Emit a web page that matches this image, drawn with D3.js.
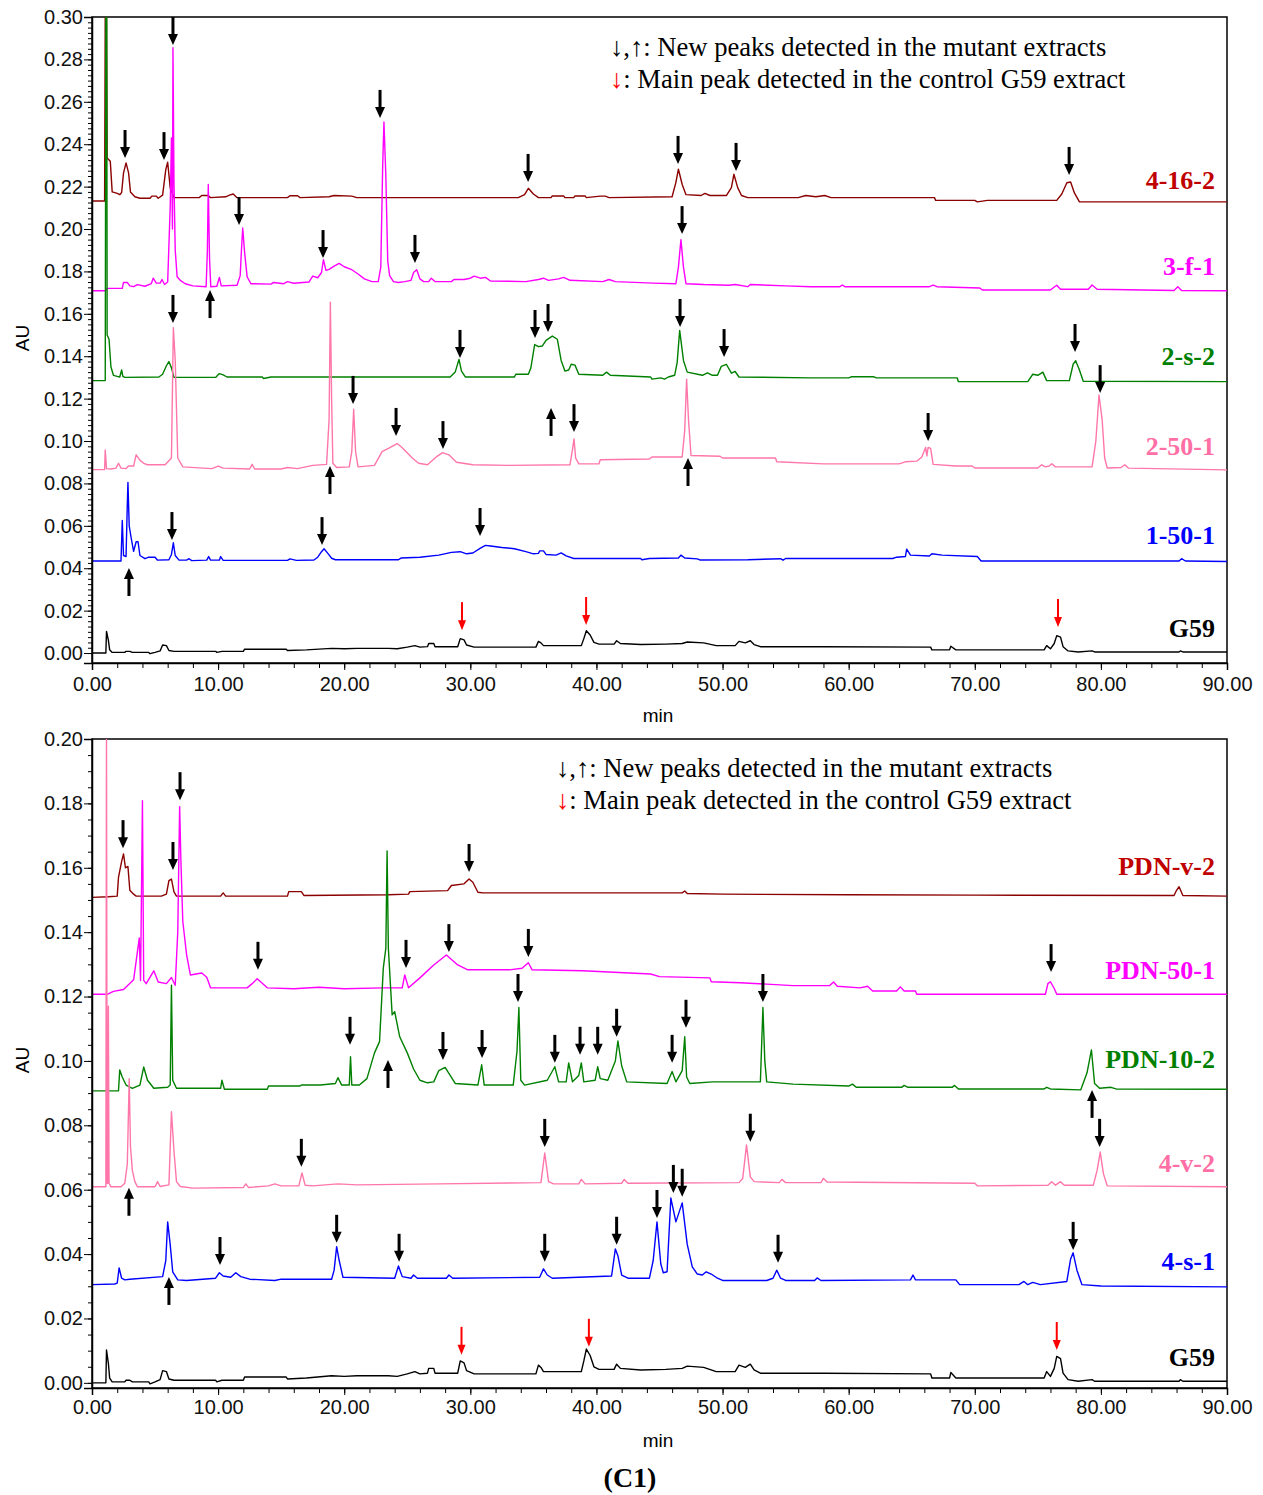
<!DOCTYPE html>
<html>
<head>
<meta charset="utf-8">
<script src="https://cdn.jsdelivr.net/npm/d3@7"></script>
<style>
  body { margin: 0; background: #fff; }
</style>
</head>
<body>
<div class="chart"></div>
<script>

// ---- data: [minutes, AU] ----

// control, drawn in both panels
var g59 = [[0,0],[1.1,0],[1.15,0.0102],[1.3,0.006],[1.4,0.0015],[1.6,0.0003],[2.6,0.0003],[2.7,0.0008],[3.0,0.0008],[3.2,0.0003],[4.5,0.0003],[4.6,-0.0003],[5.0,0.0003],[5.4,0.001],[5.6,0.0038],[5.9,0.0035],[6.1,0.0012],[6.5,0.0008],[9.8,0.0008],[9.9,0.0003],[10.3,0.0008],[12.0,0.0008],[12.1,0.0018],[15.4,0.0018],[15.5,0.0012],[17.0,0.0015],[19.0,0.0022],[20.0,0.002],[21.0,0.0022],[23.5,0.0022],[24.2,0.002],[25.0,0.0028],[25.6,0.0035],[26.0,0.0028],[26.6,0.003],[26.7,0.0045],[27.1,0.0045],[27.2,0.003],[29.0,0.003],[29.2,0.0068],[29.5,0.0062],[29.7,0.0038],[30.3,0.0028],[35.2,0.0028],[35.4,0.0055],[35.6,0.0048],[35.8,0.0035],[38.8,0.0035],[39.0,0.0068],[39.2,0.0105],[39.5,0.0085],[39.8,0.005],[40.2,0.0042],[41.4,0.0042],[41.6,0.0058],[41.9,0.0045],[43.5,0.004],[45.5,0.0042],[46.8,0.0045],[47.2,0.0052],[48.5,0.0048],[49.5,0.0035],[51.0,0.0035],[51.3,0.0055],[51.8,0.0048],[52.2,0.0058],[52.5,0.004],[53,0.003],[58,0.003],[66.5,0.0028],[66.6,0.0015],[68.0,0.0015],[68.1,0.0032],[68.5,0.0015],[75.5,0.0015],[75.7,0.0035],[76.0,0.002],[76.3,0.0045],[76.5,0.0082],[76.8,0.0075],[77.0,0.003],[77.4,0.001],[78.2,0.0005],[79.3,0.001],[79.5,0.0005],[86.2,0.0005],[86.3,0.001],[86.5,0.0005],[90,0.0005]];

// top panel
var s4162 = [[0,0.2132],[1.0,0.2132],[1.05,0.30],[1.15,0.30],[1.2,0.2335],[1.45,0.232],[1.6,0.2175],[2.0,0.2168],[2.2,0.2162],[2.35,0.2172],[2.5,0.2265],[2.7,0.2312],[2.9,0.2265],[3.05,0.2175],[3.4,0.2152],[3.8,0.2145],[4.6,0.2145],[4.75,0.2155],[5.1,0.2155],[5.25,0.2145],[5.6,0.216],[5.85,0.228],[6.0,0.2315],[6.2,0.2195],[6.5,0.2148],[8.5,0.2148],[8.7,0.2158],[9.2,0.2158],[9.4,0.2148],[10.6,0.2152],[10.9,0.216],[11.2,0.2165],[11.5,0.2148],[15.5,0.2148],[15.7,0.2157],[16.3,0.2157],[16.5,0.2148],[18.8,0.2152],[19.2,0.2158],[20.6,0.2155],[21,0.2148],[33.8,0.2148],[34.3,0.2162],[34.6,0.2192],[35.0,0.2165],[35.4,0.2148],[36.4,0.2148],[36.5,0.2156],[37.4,0.2156],[37.5,0.2148],[38.2,0.2148],[38.3,0.2156],[39.1,0.2156],[39.2,0.2148],[40.3,0.2155],[40.7,0.2155],[41,0.2148],[46.0,0.2152],[46.3,0.222],[46.5,0.2282],[46.8,0.221],[47.1,0.2162],[48.3,0.2158],[48.6,0.2168],[49.0,0.2158],[50.3,0.2158],[50.7,0.2195],[50.9,0.2258],[51.2,0.2195],[51.5,0.2158],[52.0,0.2148],[56.0,0.2148],[56.6,0.2158],[57.4,0.2152],[58.1,0.2158],[58.6,0.2148],[66.8,0.2148],[66.9,0.2135],[70,0.2135],[70.2,0.2128],[71,0.2135],[76.5,0.2135],[76.9,0.2165],[77.3,0.2218],[77.6,0.2222],[77.9,0.217],[78.3,0.2128],[90,0.2128]];

var s3f1 = [[0,0.1709],[1.1,0.1709],[1.2,0.172],[2.4,0.172],[2.5,0.1748],[2.8,0.1748],[3.0,0.1732],[3.3,0.1728],[3.6,0.1738],[4.2,0.173],[4.7,0.1742],[4.85,0.1768],[5.1,0.1745],[5.4,0.1745],[5.55,0.1762],[5.75,0.1738],[6.0,0.175],[6.2,0.21],[6.3,0.243],[6.38,0.2],[6.42,0.2855],[6.5,0.222],[6.6,0.19],[6.75,0.1775],[7.0,0.1758],[7.4,0.1742],[8.0,0.1732],[9.05,0.1728],[9.15,0.19],[9.22,0.221],[9.32,0.186],[9.42,0.1728],[9.9,0.173],[10.1,0.1772],[10.25,0.1732],[11.5,0.1735],[11.75,0.178],[11.85,0.19],[11.95,0.2005],[12.1,0.189],[12.3,0.1775],[12.6,0.1742],[14.2,0.174],[14.4,0.1748],[15.2,0.1742],[15.5,0.1752],[16.0,0.1744],[17.2,0.175],[17.5,0.1778],[17.9,0.177],[18.2,0.1795],[18.35,0.1855],[18.55,0.1805],[18.8,0.181],[19.2,0.1825],[19.6,0.1838],[20.0,0.1822],[20.6,0.1808],[21.1,0.1788],[21.6,0.1765],[22.2,0.1752],[22.7,0.1752],[22.9,0.182],[23.05,0.23],[23.15,0.2505],[23.3,0.225],[23.45,0.185],[23.6,0.178],[23.9,0.1752],[24.3,0.1748],[24.8,0.1752],[25.3,0.1758],[25.5,0.1795],[25.75,0.1808],[26.0,0.1765],[26.3,0.1752],[26.7,0.1752],[26.9,0.1768],[27.2,0.1752],[28.5,0.1752],[28.7,0.1762],[29.5,0.1762],[30.0,0.1768],[30.3,0.1778],[30.8,0.1768],[31.2,0.1772],[31.6,0.1755],[34.4,0.1752],[35.4,0.1762],[35.8,0.1768],[36.2,0.1758],[37.0,0.1765],[37.4,0.1772],[37.9,0.1758],[40.5,0.1752],[41.0,0.1762],[41.5,0.1752],[44.5,0.1745],[46.3,0.1742],[46.5,0.182],[46.7,0.195],[46.9,0.182],[47.1,0.1742],[48.5,0.1738],[50.5,0.1735],[51,0.1738],[52,0.1728],[52.2,0.1738],[55,0.1732],[57,0.1728],[59.3,0.1728],[59.5,0.1736],[59.7,0.1728],[66.4,0.1728],[66.7,0.1735],[67.0,0.1728],[70.4,0.1722],[70.6,0.1712],[76.0,0.1712],[76.2,0.1722],[76.5,0.1735],[76.8,0.1716],[79.0,0.1716],[79.3,0.1736],[79.7,0.1716],[85.8,0.171],[86.1,0.1728],[86.4,0.171],[90,0.1709]];

var s2s2 = [[0,0.1285],[1.05,0.1285],[1.1,0.30],[1.17,0.30],[1.2,0.150],[1.35,0.148],[1.5,0.135],[1.7,0.131],[2.0,0.1305],[2.2,0.1302],[2.35,0.1335],[2.45,0.1305],[2.6,0.130],[5.3,0.1302],[5.6,0.1315],[5.9,0.1355],[6.1,0.1375],[6.3,0.1345],[6.5,0.130],[9.8,0.130],[10.1,0.1318],[10.4,0.1312],[10.7,0.1302],[13.5,0.1302],[13.6,0.1295],[14.2,0.1302],[28.4,0.1302],[28.8,0.1325],[29.1,0.1385],[29.3,0.133],[29.6,0.1302],[33.5,0.1302],[33.6,0.1315],[34.6,0.1315],[34.8,0.1345],[35.1,0.1455],[35.4,0.1445],[35.7,0.1448],[36.0,0.1475],[36.5,0.1495],[36.9,0.148],[37.2,0.138],[37.5,0.133],[37.8,0.1335],[38.0,0.1362],[38.3,0.1358],[38.6,0.1315],[40.5,0.131],[40.8,0.1325],[41.1,0.131],[44.3,0.1302],[44.4,0.1292],[45.1,0.1298],[45.4,0.1292],[45.7,0.1302],[46.2,0.131],[46.4,0.137],[46.6,0.1522],[46.9,0.138],[47.2,0.1325],[48.4,0.131],[48.8,0.1322],[49.2,0.131],[49.6,0.131],[49.9,0.1352],[50.3,0.1362],[50.7,0.132],[51.0,0.1328],[51.3,0.1302],[57.0,0.1298],[60.0,0.1298],[60.2,0.1303],[62.0,0.1303],[62.2,0.1298],[68.6,0.1298],[68.7,0.128],[74.2,0.128],[74.6,0.1315],[75.0,0.131],[75.4,0.1325],[75.7,0.1285],[77.5,0.1285],[77.8,0.1362],[78.0,0.1379],[78.3,0.1335],[78.6,0.1282],[90,0.128]];

var s2501 = [[0,0.0865],[1.0,0.0865],[1.05,0.0958],[1.15,0.087],[1.5,0.0868],[1.9,0.0872],[2.1,0.0895],[2.3,0.0872],[2.7,0.087],[2.9,0.0882],[3.3,0.0882],[3.5,0.0935],[3.8,0.091],[4.1,0.0895],[4.4,0.0888],[5.8,0.0888],[6.3,0.092],[6.45,0.1535],[6.6,0.138],[6.8,0.092],[7.2,0.0878],[9.5,0.087],[10.0,0.0882],[10.4,0.0872],[12.5,0.0868],[12.7,0.089],[12.9,0.0868],[15,0.0868],[15.5,0.0875],[16.3,0.087],[17.5,0.0885],[18.6,0.089],[18.8,0.11],[18.9,0.1655],[19.0,0.12],[19.1,0.0895],[19.4,0.0875],[20.4,0.0878],[20.6,0.095],[20.75,0.115],[20.9,0.095],[21.1,0.0878],[22.4,0.0885],[23.0,0.095],[23.5,0.0965],[24.2,0.0988],[24.6,0.0968],[25.4,0.092],[25.9,0.0895],[26.6,0.0888],[27.3,0.0925],[27.8,0.0945],[28.3,0.0935],[28.9,0.09],[30.2,0.0888],[33,0.0885],[37.9,0.0888],[38.1,0.096],[38.22,0.101],[38.35,0.092],[38.6,0.0892],[40.2,0.0892],[40.3,0.0912],[44.2,0.0915],[44.4,0.0925],[46.8,0.0925],[47.0,0.105],[47.15,0.1292],[47.3,0.11],[47.5,0.0932],[49.8,0.0928],[50,0.092],[54.2,0.092],[54.3,0.0902],[58,0.0892],[64,0.0892],[64.5,0.0902],[65.4,0.0905],[65.8,0.0925],[66.1,0.097],[66.2,0.093],[66.3,0.097],[66.5,0.0965],[66.7,0.089],[68.5,0.0882],[69.8,0.0882],[70,0.0873],[75.0,0.0873],[75.3,0.0888],[75.6,0.0878],[75.9,0.0882],[76.1,0.0893],[76.4,0.0878],[79.3,0.0878],[79.6,0.1],[79.85,0.1217],[80.1,0.11],[80.3,0.092],[80.5,0.0873],[81.6,0.0875],[81.9,0.0888],[82.2,0.0872],[90,0.0864]];

var s1501 = [[0,0.0434],[2.3,0.0434],[2.4,0.0625],[2.5,0.046],[2.7,0.0455],[2.8,0.07],[2.85,0.0805],[2.95,0.06],[3.1,0.0545],[3.3,0.048],[3.5,0.0525],[3.65,0.0525],[3.8,0.046],[4.2,0.0445],[4.5,0.0452],[5.0,0.0452],[5.2,0.0438],[6.1,0.044],[6.3,0.0465],[6.45,0.052],[6.6,0.046],[6.9,0.0438],[7.5,0.0438],[7.7,0.0445],[7.9,0.0436],[9.1,0.0438],[9.25,0.0455],[9.4,0.0438],[10.1,0.0438],[10.2,0.0455],[10.4,0.0437],[15.5,0.0437],[15.7,0.0444],[16.2,0.0437],[17.6,0.0439],[17.9,0.0452],[18.2,0.0478],[18.4,0.0492],[18.7,0.047],[19.0,0.0447],[19.3,0.044],[24.3,0.044],[24.5,0.0448],[26,0.0452],[27.5,0.0462],[28.5,0.0475],[29.2,0.0478],[29.7,0.0468],[30.2,0.0472],[30.8,0.0495],[31.2,0.0508],[31.6,0.0505],[32.5,0.0498],[33.5,0.0492],[34.4,0.0478],[35.0,0.0468],[35.4,0.047],[35.5,0.0482],[35.8,0.0482],[36.0,0.0465],[36.8,0.0462],[37.2,0.0472],[37.6,0.0458],[38.2,0.0446],[43.5,0.0446],[43.6,0.044],[44.2,0.0446],[46.5,0.0448],[46.7,0.0462],[47.0,0.0448],[48.0,0.0444],[48.2,0.0439],[52.0,0.044],[54.6,0.0445],[54.8,0.0438],[55.0,0.0446],[63.5,0.0446],[63.8,0.0452],[64.5,0.0455],[64.6,0.049],[64.9,0.0462],[66.4,0.0458],[66.6,0.0468],[67.4,0.0462],[70.2,0.0455],[70.5,0.0434],[83,0.0434],[86.2,0.0434],[86.4,0.0445],[86.7,0.0434],[90,0.0432]];

// bottom panel
var sPDNv2 = [[0,0.1508],[1.3,0.151],[2.0,0.1512],[2.1,0.157],[2.35,0.162],[2.5,0.1643],[2.65,0.16],[2.85,0.1604],[3.0,0.153],[3.3,0.1518],[3.5,0.1512],[5.5,0.1512],[5.9,0.1518],[6.1,0.156],[6.3,0.1565],[6.5,0.1525],[6.7,0.1512],[10.2,0.1512],[10.4,0.1522],[10.6,0.1512],[15.5,0.1512],[15.6,0.1526],[16.6,0.1526],[16.8,0.1514],[23.5,0.1516],[25.1,0.1518],[25.2,0.1526],[28.2,0.1529],[28.5,0.1545],[29.5,0.155],[29.9,0.1565],[30.2,0.1555],[30.6,0.1524],[31,0.1522],[34,0.1522],[46.8,0.1522],[47.0,0.1528],[47.2,0.152],[50,0.1518],[60,0.1516],[70,0.1515],[85.8,0.1514],[86.0,0.153],[86.2,0.1541],[86.5,0.1514],[90,0.1512]];

var sPDN501 = [[0,0.1207],[1.2,0.1207],[1.7,0.1216],[2.5,0.1222],[3.3,0.1252],[3.55,0.1324],[3.75,0.1382],[3.85,0.125],[4.0,0.1808],[4.1,0.125],[4.3,0.124],[4.9,0.128],[5.25,0.1245],[5.9,0.124],[6.3,0.1259],[6.6,0.1235],[6.8,0.14],[6.95,0.179],[7.05,0.162],[7.2,0.1433],[7.5,0.133],[7.8,0.1267],[8.7,0.1273],[9.1,0.126],[9.4,0.1227],[12.3,0.1227],[12.7,0.124],[13.1,0.1255],[13.9,0.1227],[16,0.1224],[18,0.1229],[20,0.1224],[23.1,0.1227],[24.6,0.1227],[24.8,0.1267],[25.1,0.1227],[26,0.1258],[27.1,0.1298],[28.1,0.1329],[29.0,0.1298],[29.8,0.1283],[33.1,0.1283],[34.1,0.1288],[34.6,0.1305],[34.9,0.1283],[38.9,0.128],[44.3,0.127],[45.0,0.1262],[49,0.1258],[49.1,0.1246],[51.4,0.1243],[55.6,0.1234],[58.5,0.1234],[58.8,0.1245],[59.1,0.1232],[60.9,0.1227],[61.5,0.1232],[61.9,0.1217],[63.8,0.1217],[64.1,0.123],[64.4,0.1217],[65.3,0.1217],[65.4,0.1207],[75.6,0.1207],[75.8,0.124],[76.0,0.1246],[76.3,0.1225],[76.5,0.1207],[90,0.1207]];

var sPDN102 = [[0,0.0907],[2.1,0.0907],[2.2,0.0972],[2.4,0.095],[2.7,0.0925],[3.2,0.0915],[3.8,0.0925],[4.1,0.0981],[4.4,0.094],[4.9,0.0915],[6.0,0.0918],[6.2,0.0925],[6.3,0.1235],[6.4,0.094],[6.7,0.0915],[10.2,0.0915],[10.3,0.094],[10.5,0.0912],[13.9,0.0912],[14.0,0.0922],[16.5,0.0922],[16.6,0.0925],[18.1,0.0925],[19.3,0.093],[19.5,0.0948],[19.8,0.0925],[20.4,0.0925],[20.5,0.1013],[20.6,0.0925],[21.2,0.0925],[21.8,0.0945],[22.4,0.1025],[22.8,0.106],[23.1,0.1289],[23.3,0.135],[23.4,0.1652],[23.5,0.135],[23.8,0.1143],[24.0,0.1153],[24.4,0.1075],[25.0,0.1025],[25.5,0.0975],[26,0.094],[26.6,0.0932],[27.1,0.0935],[27.5,0.097],[28,0.098],[28.4,0.0955],[28.8,0.093],[30.6,0.0925],[30.9,0.0988],[31.1,0.0925],[33.4,0.0925],[33.7,0.103],[33.85,0.1166],[34.0,0.094],[34.3,0.0925],[36.1,0.094],[36.7,0.0982],[37.0,0.0935],[37.6,0.0935],[37.8,0.0994],[38.1,0.0935],[38.6,0.0955],[38.8,0.0994],[39.0,0.0935],[39.9,0.094],[40.1,0.0982],[40.3,0.0945],[40.9,0.094],[41.5,0.1],[41.7,0.1062],[42.0,0.0985],[42.4,0.0935],[45.6,0.093],[46.0,0.0967],[46.3,0.0935],[46.8,0.097],[47.0,0.1075],[47.15,0.095],[47.4,0.093],[49.2,0.0935],[50.6,0.0935],[53.0,0.0935],[53.2,0.1166],[53.35,0.1],[53.5,0.0935],[55.6,0.0928],[60,0.0922],[60.3,0.0928],[60.6,0.0918],[64.2,0.0918],[64.4,0.0924],[64.7,0.0918],[68.2,0.0918],[68.4,0.0924],[68.7,0.0913],[75.5,0.0913],[75.7,0.0918],[76,0.0913],[78.4,0.091],[78.9,0.0963],[79.25,0.1034],[79.5,0.093],[79.9,0.0915],[80.8,0.0918],[81.2,0.0913],[90,0.0912]];

var s4v2 = [[0,0.0609],[1.1,0.0609],[1.15,0.205],[1.2,0.062],[1.25,0.062],[1.3,0.117],[1.35,0.062],[1.5,0.0609],[2.3,0.0609],[2.6,0.062],[2.8,0.068],[2.95,0.0945],[3.05,0.0735],[3.2,0.066],[3.4,0.0625],[3.6,0.0609],[5.0,0.0609],[5.2,0.0625],[5.4,0.061],[6.1,0.0615],[6.3,0.0842],[6.5,0.072],[6.7,0.0625],[7.0,0.061],[8.0,0.0605],[12.0,0.0607],[12.2,0.0618],[12.4,0.0607],[14.0,0.0612],[14.5,0.0618],[15.0,0.0612],[16.4,0.0612],[16.65,0.0652],[16.9,0.0614],[17.5,0.0612],[19.5,0.0618],[21.0,0.0615],[27.5,0.0618],[35.6,0.0622],[35.9,0.0714],[36.2,0.0625],[36.6,0.0618],[38.6,0.0618],[38.8,0.0632],[39.1,0.0618],[42,0.062],[42.2,0.0632],[42.5,0.062],[51.3,0.0622],[51.6,0.0635],[51.9,0.0739],[52.2,0.064],[52.5,0.0625],[54.5,0.0622],[54.7,0.0632],[55,0.0622],[57.8,0.0622],[58.0,0.0635],[58.3,0.0624],[70,0.062],[70.2,0.0612],[75.8,0.0614],[76.1,0.0625],[76.4,0.0614],[76.8,0.0625],[77.1,0.0614],[79.4,0.0614],[79.7,0.066],[79.95,0.0717],[80.2,0.065],[80.5,0.0612],[90,0.0609]];

var s4s1 = [[0,0.0305],[1.8,0.0307],[2.0,0.031],[2.15,0.0357],[2.35,0.0325],[2.6,0.032],[3,0.0322],[5.6,0.033],[5.85,0.038],[6.0,0.050],[6.2,0.043],[6.4,0.0345],[6.8,0.032],[7.5,0.0318],[9.8,0.0325],[10.1,0.0342],[10.4,0.0332],[11.0,0.0328],[11.4,0.0342],[11.8,0.033],[12.5,0.0322],[14.5,0.0318],[15.0,0.0322],[19.0,0.0322],[19.2,0.035],[19.4,0.0423],[19.6,0.038],[19.9,0.0328],[24.0,0.0325],[24.3,0.0363],[24.6,0.033],[25.3,0.0325],[25.5,0.0335],[25.8,0.0325],[28.1,0.0325],[28.3,0.0335],[28.6,0.0325],[35.5,0.0328],[35.8,0.0354],[36.1,0.0335],[36.5,0.0325],[41.2,0.0332],[41.5,0.0416],[41.7,0.0395],[42.0,0.0335],[42.5,0.0325],[44.2,0.0325],[44.5,0.038],[44.8,0.050],[45.1,0.037],[45.3,0.0342],[45.6,0.0345],[45.9,0.0574],[46.3,0.05],[46.8,0.0559],[47.2,0.043],[47.6,0.036],[48.0,0.0338],[48.4,0.0335],[48.7,0.0345],[49.1,0.0338],[49.6,0.0325],[50,0.0318],[53.5,0.0318],[54.0,0.0325],[54.3,0.035],[54.6,0.0325],[55,0.0318],[57.3,0.0318],[57.5,0.0326],[57.8,0.0318],[64.9,0.032],[65.1,0.0335],[65.3,0.032],[68.5,0.032],[68.8,0.0305],[73.5,0.0305],[73.9,0.0315],[74.2,0.0305],[74.6,0.0312],[75.2,0.0305],[77.3,0.0315],[77.6,0.0385],[77.8,0.0404],[78.1,0.035],[78.5,0.0305],[80,0.0301],[90,0.0298]];

// trace names and peak arrows: [minutes, AU at arrow tip, direction, colour]
var topNames = ["4-16-2", "3-f-1", "2-s-2", "2-50-1", "1-50-1", "G59"];
var bottomNames = ["PDN-v-2", "PDN-50-1", "PDN-10-2", "4-v-2", "4-s-1", "G59"];

var topArrows = [
  [2.62,0.2335,"d","k"],[5.71,0.2325,"d","k"],[6.42,0.2868,"d","k"],[34.58,0.2222,"d","k"],[46.47,0.2307,"d","k"],[51.07,0.2274,"d","k"],[77.48,0.2255,"d","k"],
  [22.84,0.2524,"d","k"],[11.66,0.2019,"d","k"],[18.32,0.1863,"d","k"],[25.61,0.184,"d","k"],[46.79,0.1976,"d","k"],[9.36,0.1712,"u","k"],
  [6.42,0.1557,"d","k"],[29.18,0.1392,"d","k"],[35.13,0.1486,"d","k"],[36.16,0.1514,"d","k"],[46.63,0.1538,"d","k"],[50.12,0.1396,"d","k"],[77.95,0.142,"d","k"],
  [20.70,0.1175,"d","k"],[24.11,0.1024,"d","k"],[27.83,0.0962,"d","k"],[36.4,0.1156,"u","k"],[38.22,0.1042,"d","k"],[66.3,0.1,"d","k"],[79.94,0.1226,"d","k"],[18.87,0.0882,"u","k"],[47.26,0.092,"u","k"],
  [6.34,0.0533,"d","k"],[18.24,0.0509,"d","k"],[30.77,0.0552,"d","k"],[2.93,0.0401,"u","k"],
  [29.34,0.0108,"d","r"],[39.18,0.0132,"d","r"],[76.6,0.0123,"d","r"]
];

var bottomArrows = [
  [2.46,0.1661,"d","k"],[6.42,0.1593,"d","k"],[29.9,0.1587,"d","k"],
  [6.98,0.181,"d","k"],[13.16,0.1283,"d","k"],[24.9,0.1289,"d","k"],[28.3,0.1338,"d","k"],[34.6,0.1323,"d","k"],[76.05,0.1276,"d","k"],
  [20.46,0.105,"d","k"],[23.47,0.1003,"u","k"],[27.83,0.1003,"d","k"],[30.93,0.1009,"d","k"],[33.78,0.1183,"d","k"],[36.7,0.0994,"d","k"],[38.7,0.1019,"d","k"],[40.1,0.1019,"d","k"],[41.6,0.1075,"d","k"],[46.0,0.0994,"d","k"],[47.1,0.1103,"d","k"],[53.2,0.1183,"d","k"],[79.3,0.091,"u","k"],
  [2.93,0.0606,"u","k"],[16.6,0.0671,"d","k"],[35.9,0.0733,"d","k"],[52.2,0.0749,"d","k"],[79.9,0.0733,"d","k"],
  [6.1,0.0329,"u","k"],[10.15,0.0366,"d","k"],[19.4,0.0435,"d","k"],[24.35,0.0376,"d","k"],[35.9,0.0376,"d","k"],[41.6,0.0429,"d","k"],[44.8,0.0512,"d","k"],[46.1,0.059,"d","k"],[46.8,0.0578,"d","k"],[54.4,0.0373,"d","k"],[77.8,0.0413,"d","k"],
  [29.3,0.0087,"d","r"],[39.4,0.0112,"d","r"],[76.5,0.0102,"d","r"]
];

var xTicks = [0, 10, 20, 30, 40, 50, 60, 70, 80, 90];
var topYTicks = [0, 0.02, 0.04, 0.06, 0.08, 0.10, 0.12, 0.14, 0.16, 0.18, 0.20, 0.22, 0.24, 0.26, 0.28, 0.30];
var bottomYTicks = [0, 0.02, 0.04, 0.06, 0.08, 0.10, 0.12, 0.14, 0.16, 0.18, 0.20];

// ---- styles ----
var lineColors = ["#8b0000", "#ff00ff", "#008000", "#ff77aa", "#0000ff", "#000000"];
var labelColors = ["#c00000", "#ff00ff", "#008000", "#ff6fa5", "#0000ff", "#000000"];

var svgWidth = 1263, svgHeight = 1495;
var svg = d3.select(".chart").append("svg")
  .attr("width", svgWidth)
  .attr("height", svgHeight)
  .style("font-family", "'Liberation Sans', Arial, sans-serif");

var x = d3.scaleLinear().domain([0, 90]).range([92, 1227]);

function drawPanel(p) {
  var y = d3.scaleLinear().domain(p.yDomain).range(p.yRange);
  var g = svg.append("g");

  g.append("clipPath").attr("id", p.id)
    .append("rect")
    .attr("x", x(0)).attr("y", p.yRange[1])
    .attr("width", x(90) - x(0)).attr("height", p.yRange[0] - p.yRange[1]);

  // frame
  g.append("rect")
    .attr("x", x(0)).attr("y", p.yRange[1])
    .attr("width", x(90) - x(0)).attr("height", p.yRange[0] - p.yRange[1])
    .attr("fill", "none").attr("stroke", "#000").attr("stroke-width", 1.5);

  // traces
  var line = d3.line().x(d => x(d[0])).y(d => y(d[1]));
  var traces = g.append("g").attr("clip-path", "url(#" + p.id + ")");
  p.series.forEach(function(s, i) {
    traces.append("path")
      .datum(s)
      .attr("d", line)
      .attr("fill", "none")
      .attr("stroke", lineColors[i])
      .attr("stroke-width", 1.4)
      .attr("stroke-linejoin", "round");
  });

  // trace labels
  p.names.forEach(function(name, i) {
    g.append("text")
      .attr("x", 1215)
      .attr("y", y(p.labelAU[i]))
      .attr("text-anchor", "end")
      .style("font-family", "'Liberation Serif', 'Times New Roman', serif")
      .style("font-weight", "bold")
      .style("font-size", "26px")
      .attr("fill", labelColors[i])
      .text(name);
  });

  // arrows
  p.arrows.forEach(function(a) {
    var ax = x(a[0]), ay = y(a[1]);
    var red = a[3] === "r";
    var col = red ? "#ff0000" : "#000";
    var len = 28, hl = red ? 10 : 11, hw = red ? 4 : 5;
    var s = a[2] === "d" ? -1 : 1;
    g.append("line")
      .attr("x1", ax).attr("x2", ax)
      .attr("y1", ay + s * len).attr("y2", ay + s * (hl - 2))
      .attr("stroke", col).attr("stroke-width", red ? 2 : 3);
    g.append("path")
      .attr("d", "M" + (ax - hw) + "," + (ay + s * hl) + "L" + (ax + hw) + "," + (ay + s * hl) + "L" + ax + "," + ay + "Z")
      .attr("fill", col);
  });

  // axes
  var xAxis = g.append("g")
    .attr("transform", `translate(0, ${p.yRange[0]})`)
    .call(d3.axisBottom(x).tickValues(xTicks).tickFormat(d3.format(".2f")).tickSize(7).tickPadding(p.xPad));
  g.append("g")
    .attr("transform", `translate(0, ${p.yRange[0]})`)
    .call(d3.axisBottom(x).tickValues(d3.range(0, 91, 2)).tickFormat("").tickSize(5))
    .select(".domain").remove();

  var yAxis = g.append("g")
    .attr("transform", `translate(${x(0)}, 0)`)
    .call(d3.axisLeft(y).tickValues(p.yTicks).tickFormat(d3.format(".2f")).tickSize(8).tickPadding(1));
  g.append("g")
    .attr("transform", `translate(${x(0)}, 0)`)
    .call(d3.axisLeft(y).tickValues(d3.range(0, p.yTicks[p.yTicks.length - 1] + 1e-9, p.minor)).tickFormat("").tickSize(4))
    .select(".domain").remove();

  [xAxis, yAxis].forEach(function(ax) {
    ax.selectAll("text").style("font-size", "20px").attr("fill", "#111");
    ax.select(".domain").attr("stroke-width", 1.5);
  });

  g.append("text")
    .attr("x", 658).attr("y", p.yRange[0] + 59)
    .attr("text-anchor", "middle")
    .style("font-size", "19px")
    .text("min");

  g.append("text")
    .attr("text-anchor", "middle")
    .attr("transform", "translate(29," + p.auY + ")rotate(-90)")
    .style("font-size", "19px")
    .text("AU");

  // key
  var key = g.append("g")
    .style("font-family", "'Liberation Serif', 'Times New Roman', serif")
    .style("font-size", "26.6px");
  key.append("text")
    .attr("x", p.keyX).attr("y", p.keyY)
    .text("\u2193,\u2191: New peaks detected in the mutant extracts");
  var k2 = key.append("text").attr("x", p.keyX).attr("y", p.keyY + 32);
  k2.append("tspan").attr("fill", "#ff0000").text("\u2193");
  k2.append("tspan").text(": Main peak detected in the control G59 extract");
}

drawPanel({
  id: "clipTop",
  yDomain: [-0.0047, 0.30], yRange: [663, 17],
  yTicks: topYTicks, minor: 0.0025,
  series: [s4162, s3f1, s2s2, s2501, s1501, g59],
  names: topNames,
  labelAU: [0.2189, 0.1783, 0.1358, 0.0934, 0.0514, 0.0075],
  arrows: topArrows,
  auY: 338, keyX: 610, keyY: 56, xPad: 7
});

drawPanel({
  id: "clipBottom",
  yDomain: [-0.0016, 0.20], yRange: [1388, 739],
  yTicks: bottomYTicks, minor: 0.005,
  series: [sPDNv2, sPDN501, sPDN102, s4v2, s4s1, g59],
  names: bottomNames,
  labelAU: [0.1578, 0.1255, 0.0978, 0.0655, 0.0351, 0.0053],
  arrows: bottomArrows,
  auY: 1060, keyX: 556, keyY: 777, xPad: 5
});

svg.append("text")
  .attr("x", 630).attr("y", 1487)
  .attr("text-anchor", "middle")
  .style("font-family", "'Liberation Serif', 'Times New Roman', serif")
  .style("font-weight", "bold")
  .style("font-size", "28px")
  .text("(C1)");

</script>
